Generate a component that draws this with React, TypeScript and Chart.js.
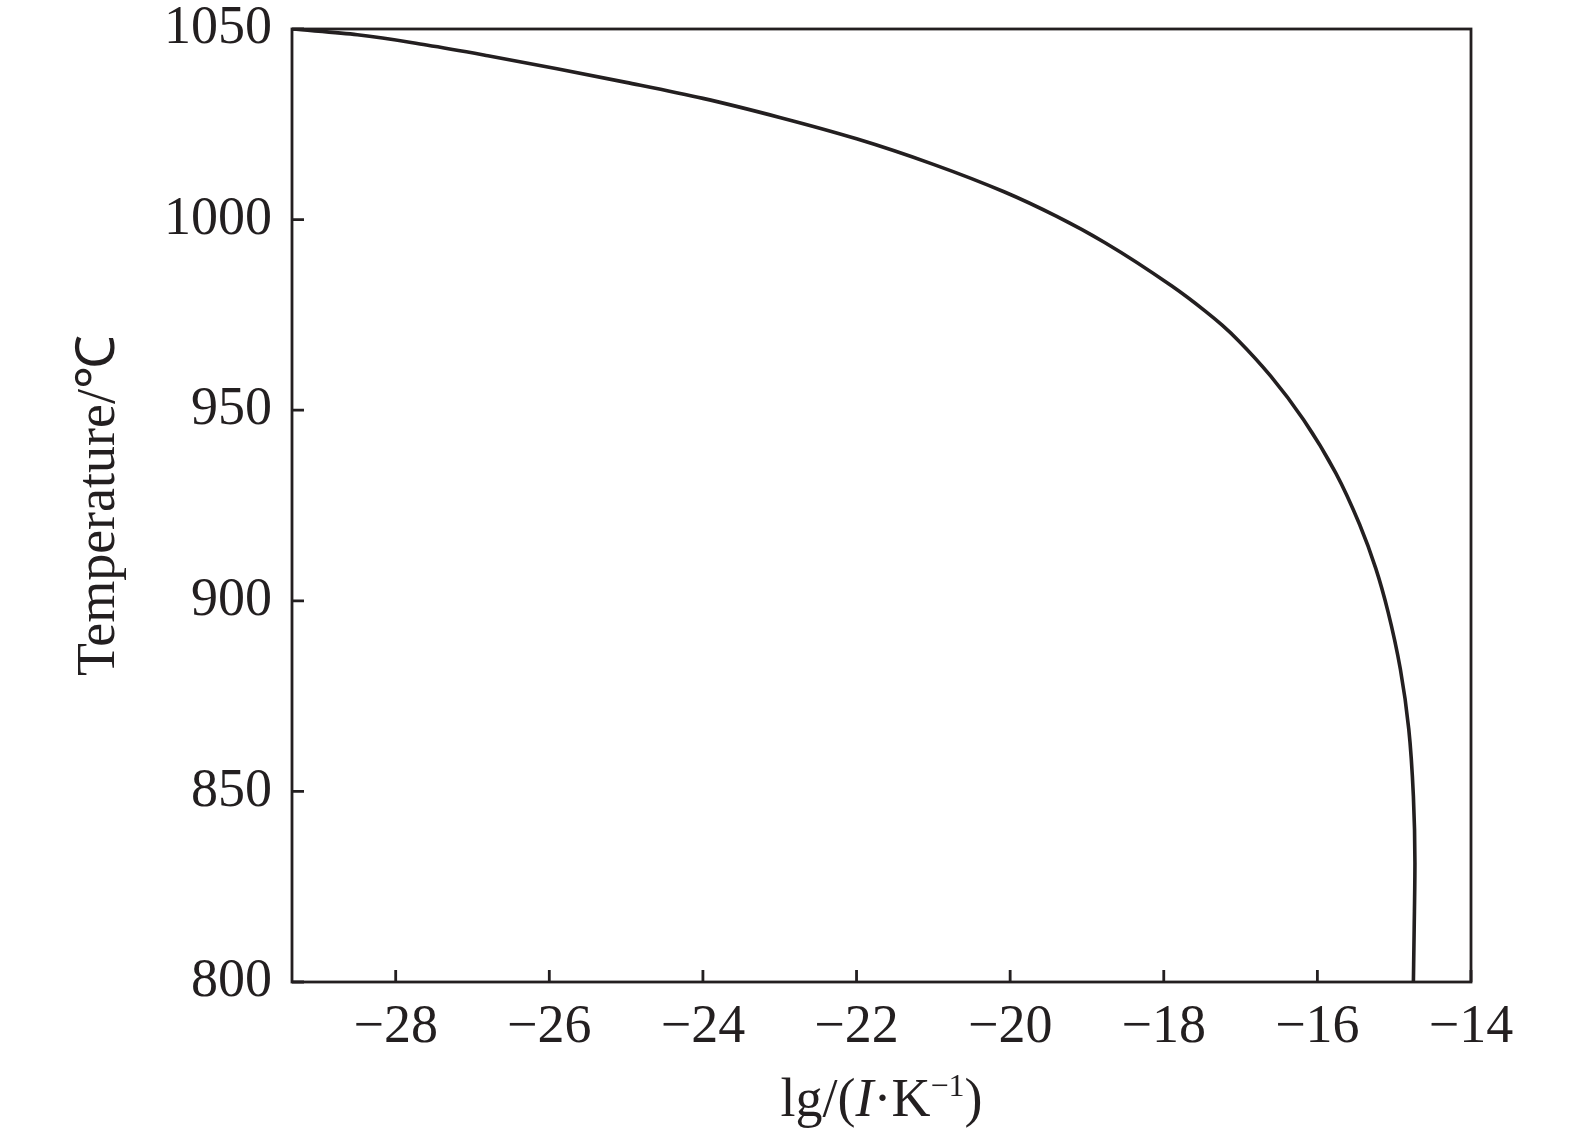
import { useEffect, useRef } from "react";
import { Chart, registerables } from "chart.js";
import type { ChartConfiguration, Plugin } from "chart.js";

Chart.register(...registerables);

// curve: lg(I·K^-1) against temperature
const lgIK = [
  -29.35, -28.5, -27.6, -26.8, -25.9, -25.0, -24.0, -23.0, -22.0, -21.0,
  -20.08, -19.4, -18.77, -17.89, -17.46, -17.24, -17.03, -16.61, -16.18,
  -15.76, -15.45, -15.24, -15.08, -14.92, -14.81, -14.75, -14.73, -14.74,
  -14.75,
];
const temperature = [
  1050, 1048.5, 1045.8, 1043.0, 1039.6, 1036.0, 1031.8, 1026.8, 1021.2, 1014.5,
  1007.3, 1000.9, 994.0, 982.5, 976.0, 972.3, 968.3, 959.0, 947.5, 933.5,
  920.0, 908.5, 897.1, 882.1, 866.3, 848.7, 831.2, 813.7, 800,
];

const xTicks = [-28, -26, -24, -22, -20, -18, -16, -14];
const yTicks = [800, 850, 900, 950, 1000, 1050];

const INK = "#231f20";
const FONT = "'Liberation Serif', 'Times New Roman', serif";

// frame round the plot, inward tick marks and the mixed-style x title
const framePlugin: Plugin = {
  id: "frame",
  afterDraw(chart) {
    const { ctx, chartArea } = chart;
    const xs = chart.scales.x;
    const ys = chart.scales.y;
    const tick = 12;
    ctx.save();
    ctx.strokeStyle = INK;
    ctx.lineWidth = 2.8;
    ctx.strokeRect(
      chartArea.left,
      chartArea.top,
      chartArea.right - chartArea.left,
      chartArea.bottom - chartArea.top
    );
    ctx.beginPath();
    xTicks.forEach((v) => {
      const px = xs.getPixelForValue(v);
      ctx.moveTo(px, chartArea.bottom);
      ctx.lineTo(px, chartArea.bottom - tick);
    });
    yTicks.forEach((v) => {
      const py = ys.getPixelForValue(v);
      ctx.moveTo(chartArea.left, py);
      ctx.lineTo(chartArea.left + tick, py);
    });
    ctx.stroke();

    // x title: lg/(I·K⁻¹)
    const size = 54;
    const parts = [
      { t: "lg/(", f: `${size}px ${FONT}`, dy: 0 },
      { t: "I", f: `italic ${size}px ${FONT}`, dy: 0 },
      { t: "·K", f: `${size}px ${FONT}`, dy: 0 },
      { t: "−1", f: `${Math.round(size * 0.6)}px ${FONT}`, dy: -20 },
      { t: ")", f: `${size}px ${FONT}`, dy: 0 },
    ];
    let total = 0;
    parts.forEach((p) => {
      ctx.font = p.f;
      total += ctx.measureText(p.t).width;
    });
    let x = (chartArea.left + chartArea.right) / 2 - total / 2;
    const base = 1116;
    ctx.fillStyle = INK;
    ctx.textBaseline = "alphabetic";
    ctx.textAlign = "left";
    parts.forEach((p) => {
      ctx.font = p.f;
      ctx.fillText(p.t, x, base + p.dy);
      x += ctx.measureText(p.t).width;
    });
    ctx.restore();
  },
};

export default function App() {
  const canvasRef = useRef<HTMLCanvasElement>(null);

  useEffect(() => {
    if (!canvasRef.current) return;
    const config: ChartConfiguration = {
      type: "line",
      data: {
        datasets: [
          {
            data: lgIK.map((v, i) => ({ x: v, y: temperature[i] })),
            borderColor: INK,
            borderWidth: 3.6,
            pointRadius: 0,
            cubicInterpolationMode: "monotone",
            fill: false,
          },
        ],
      },
      options: {
        animation: false,
        responsive: true,
        maintainAspectRatio: false,
        indexAxis: "y",
        layout: { padding: { left: 0, right: 104, top: 29, bottom: 0 } },
        plugins: {
          legend: { display: false },
          tooltip: { enabled: false },
        },
        scales: {
          x: {
            type: "linear",
            min: -29.35,
            max: -14,
            afterBuildTicks: (scale) => {
              scale.ticks = xTicks.map((v) => ({ value: v }));
            },
            afterFit: (scale) => {
              scale.height = 156;
              scale.paddingLeft = 0;
              scale.paddingRight = 0;
            },
            grid: { display: false },
            border: { display: false },
            ticks: {
              color: INK,
              padding: 5,
              maxRotation: 0,
              font: { family: FONT, size: 54 },
              callback: (v) => String(v).replace("-", "−"),
            },
          },
          y: {
            type: "linear",
            min: 800,
            max: 1050,
            afterBuildTicks: (scale) => {
              scale.ticks = yTicks.map((v) => ({ value: v }));
            },
            afterFit: (scale) => {
              scale.width = 292;
              scale.paddingTop = 0;
              scale.paddingBottom = 0;
            },
            grid: { display: false },
            border: { display: false },
            ticks: {
              color: INK,
              padding: 12,
              font: { family: FONT, size: 54 },
              callback: (v) => String(v),
            },
            title: {
              display: true,
              text: "Temperature/℃",
              color: INK,
              font: { family: FONT, size: 54 },
              padding: { top: 67, bottom: 0 },
            },
          },
        },
      },
      plugins: [framePlugin],
    };
    const chart = new Chart(canvasRef.current, config);
    return () => chart.destroy();
  }, []);

  return (
    <div
      style={{
        position: "absolute",
        left: 0,
        top: 0,
        width: 1575,
        height: 1138,
        background: "#fff",
      }}
    >
      <canvas ref={canvasRef} />
    </div>
  );
}
